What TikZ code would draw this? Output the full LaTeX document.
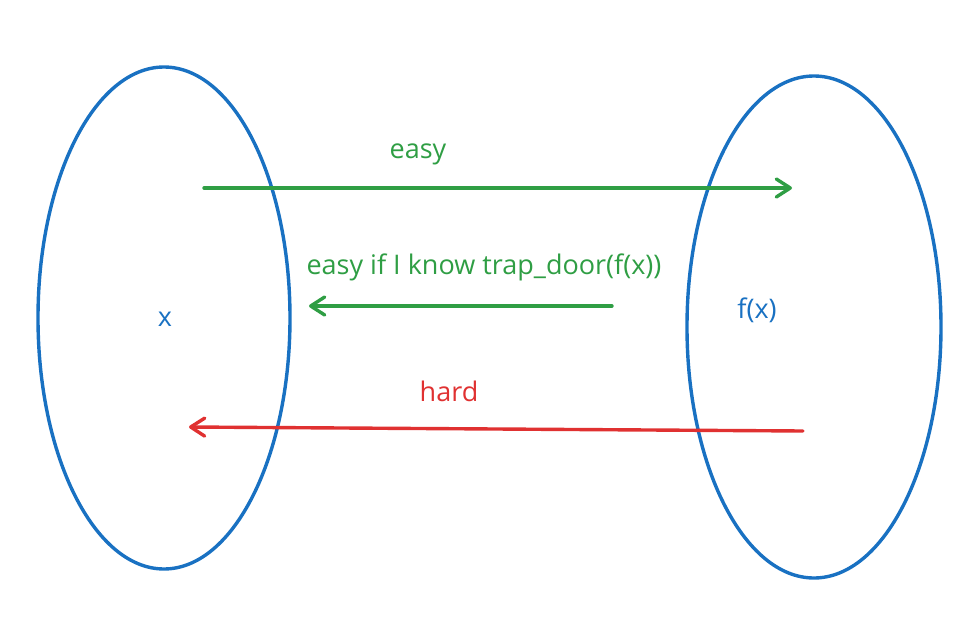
\documentclass[tikz,border=0pt]{standalone}
\usepackage{fontspec}
\setmainfont{Open Sans}
\usetikzlibrary{arrows.meta}
\definecolor{exblue}{HTML}{1971C2}
\definecolor{exgreen}{HTML}{2F9E44}
\definecolor{exred}{HTML}{E03131}
\tikzset{
  setshape/.style={draw=exblue, line width=3.4pt},
  arr/.style={line width=3.4pt, line cap=round, line join=round, -{Straight Barb[length=14pt,width=18pt,line cap=round,line join=round]}},
  lbl/.style={font=\fontsize{27}{32}\selectfont, inner sep=0pt},
}
\begin{document}
\begin{tikzpicture}[x=1pt,y=-1pt]
\useasboundingbox (0,0) rectangle (978,635);
\draw[setshape] (164,318) ellipse [x radius=126, y radius=251];
\draw[setshape] (814,327) ellipse [x radius=127, y radius=251];
\node[lbl, text=exblue] (x) at (165,319) {x};
\node[lbl, text=exblue] (fx) at (757,310) {f(x)};
\coordinate (a1s) at (204,188);
\coordinate (a1e) at (792,188);
\coordinate (a2s) at (612,306);
\coordinate (a2e) at (309,306);
\coordinate (a3s) at (803,431);
\coordinate (a3e) at (189,427);
\draw[arr, exgreen] (a1s) -- (a1e);
\draw[arr, exgreen] (a2s) -- (a2e);
\draw[arr, exred] (a3s) -- (a3e);
\node[lbl, text=exgreen] (l1) at (418,154) {easy};
\node[lbl, text=exgreen] (l2) at (484,267) {easy if I know trap\_door(f(x))};
\node[lbl, text=exred] (l3) at (449,391) {hard};
\end{tikzpicture}
\end{document}
